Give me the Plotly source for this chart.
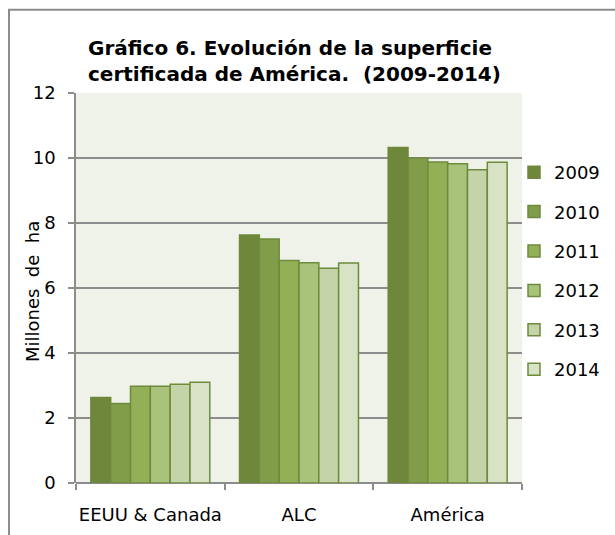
import plotly.graph_objects as go

categories = ["EEUU & Canada", "ALC", "América"]
years = ["2009", "2010", "2011", "2012", "2013", "2014"]
values_2009 = [2.63, 7.63, 10.32]
values_2010 = [2.45, 7.51, 10.00]
values_2011 = [2.98, 6.85, 9.88]
values_2012 = [2.98, 6.78, 9.82]
values_2013 = [3.04, 6.61, 9.64]
values_2014 = [3.10, 6.77, 9.87]
series = [values_2009, values_2010, values_2011, values_2012, values_2013, values_2014]

fill_colors = ["#6F873B", "#819D4A", "#93B056", "#A9C47A", "#C4D4A8", "#D8E3C6"]
line_color = "#6E8B3D"

FONT = "DejaVu Sans"
W, H = 615, 535

fig = go.Figure()
for i, (yr, vals) in enumerate(zip(years, series)):
    fig.add_trace(go.Bar(
        x=categories, y=vals, name=yr, legendgroup=yr,
        marker=dict(color=fill_colors[i],
                    line=dict(color=line_color if i > 0 else fill_colors[0], width=1.5)),
    ))

fig.update_layout(
    width=W, height=H,
    margin=dict(l=76, r=93, t=92.5, b=51.5, autoexpand=False),
    paper_bgcolor="white",
    plot_bgcolor="#EFF2E9",
    bargap=0.2, bargroupgap=0,
    font=dict(family=FONT, size=18, color="black"),
    title=dict(text="<b>Gráfico 6. Evolución de la superficie<br>certificada de América.  (2009-2014)</b>",
               x=88 / W, xanchor="left", y=1 - 55 / H, yanchor="top",
               font=dict(family=FONT, size=20, color="black")),
    showlegend=True,
    legend=dict(xref="container", yref="container",
                x=514 / W, xanchor="left", y=1 - 154 / H, yanchor="top",
                traceorder="grouped", tracegroupgap=13,
                font=dict(family=FONT, size=18, color="black"),
                bgcolor="rgba(0,0,0,0)", itemwidth=30),
    xaxis=dict(showline=False, ticks="outside", tickson="boundaries",
               ticklen=6, tickcolor="#8C8C8C", tickwidth=1.5,
               ticklabelstandoff=19, tickangle=0,
               tickfont=dict(family=FONT, size=18)),
    yaxis=dict(range=[0, 12], dtick=2, showgrid=True, gridcolor="#8C8C8C", gridwidth=1.5,
               showline=True, linecolor="#8C8C8C", linewidth=1.5,
               ticks="outside", ticklen=6, tickcolor="#8C8C8C", tickwidth=1.5,
               zeroline=True, zerolinecolor="#8C8C8C", zerolinewidth=1.5,
               ticklabelstandoff=9,
               tickfont=dict(family=FONT, size=18)),
    annotations=[dict(text="Millones  de  ha", textangle=-90, showarrow=False,
                      xref="paper", yref="paper",
                      x=(33 - 76) / 446, y=(483.5 - 292) / 391,
                      xanchor="center", yanchor="middle",
                      font=dict(family=FONT, size=18, color="black"))],
)

# outer chart frame
fig.add_shape(type="rect", xref="paper", yref="paper",
              x0=(9 - 76) / 446, x1=(640 - 76) / 446,
              y0=(483.5 - 560) / 391, y1=(483.5 - 9) / 391,
              line=dict(color="#8C8C8C", width=2), fillcolor="rgba(0,0,0,0)", layer="below")

fig.write_html("out.html", config={"displayModeBar": False},
               post_script="document.body.style.margin='0';")
